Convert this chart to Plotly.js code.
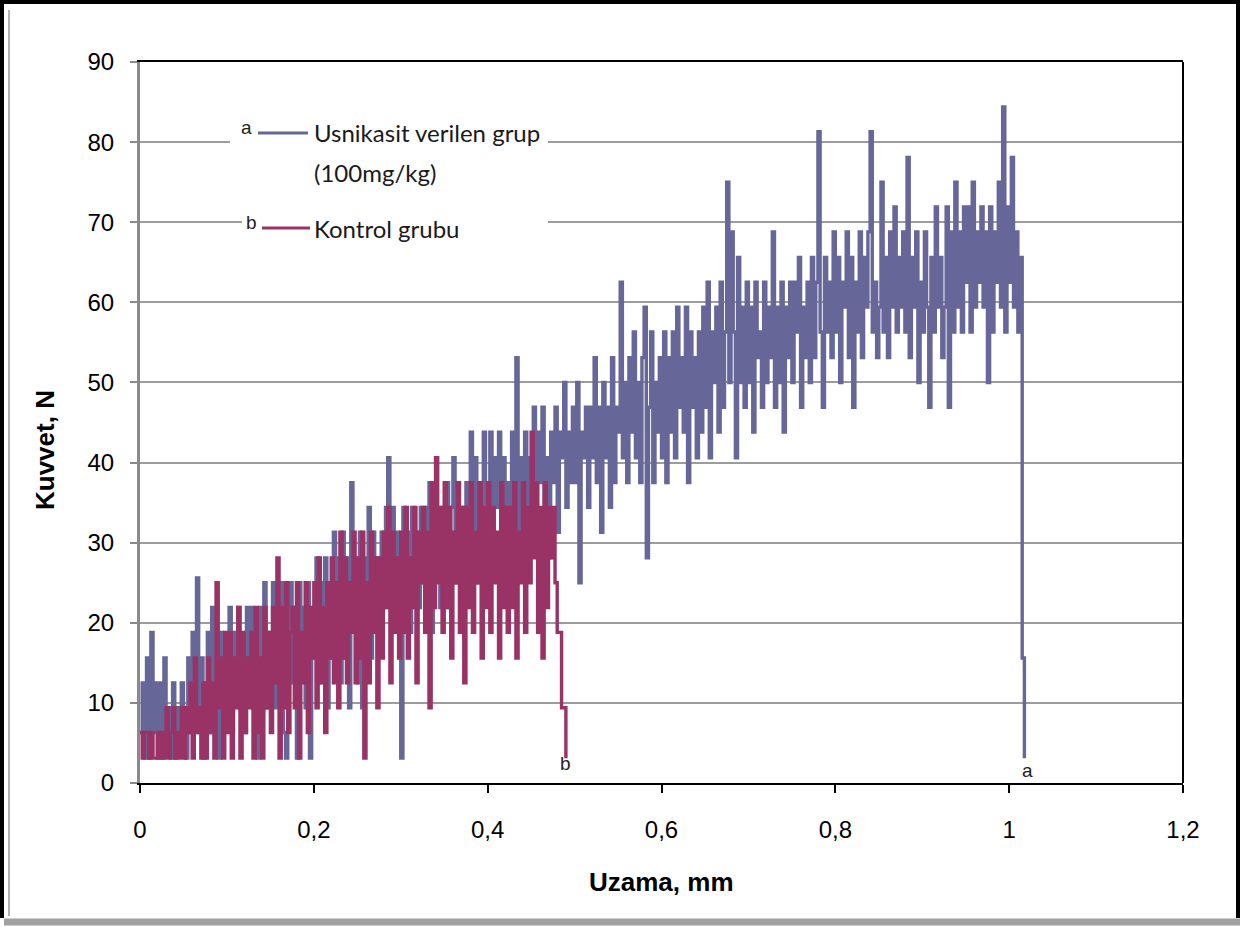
<!DOCTYPE html>
<html>
<head>
<meta charset="utf-8">
<script src="https://cdn.plot.ly/plotly-3.0.1.min.js"></script>
<style>
html,body{margin:0;padding:0;background:#fff;}
#chart{width:1252px;height:927px;}
</style>
</head>
<body>
<div id="chart"></div>
<script>
// ---- DATA ----
// elongation step between readings (mm)
const stepMm = 0.0025;

// Series a: Usnikasit verilen grup (100mg/kg) – force readings (N)
const forceA = [
 6.3,12.5,3.1,15.6,3.1,18.8,6.3,12.5,3.1,12.5,
 3.1,15.6,6.3,9.4,3.1,12.5,3.1,9.4,6.3,12.5,
 9.4,3.1,15.6,6.3,18.8,9.4,25.6,6.3,15.6,3.1,
 12.5,18.8,6.3,21.9,9.4,15.6,3.1,18.8,9.4,15.6,
 9.4,21.9,6.3,18.8,12.5,21.9,9.4,15.6,6.3,21.9,
 12.5,21.9,9.4,18.8,3.1,21.9,12.5,25,9.4,18.8,
 15.6,25,9.4,21.9,12.5,25,6.3,3.1,18.8,25,
 12.5,21.9,3.1,25,15.6,21.9,9.4,25,3.1,18.8,
 15.6,28.1,12.5,25,18.8,28.1,9.4,25,15.6,31.3,
 18.8,28.1,12.5,31.3,15.6,28.1,9.4,37.5,18.8,28.1,
 12.5,31.3,9.4,28.1,18.8,34.4,15.6,31.3,21.9,28.1,
 18.8,31.3,21.9,34.4,40.6,25,34.4,18.8,31.3,25,
 3.1,34.4,21.9,31.3,18.8,34.4,25,31.3,21.9,34.4,
 25,34.4,21.9,37.5,18.8,34.4,28.1,31.3,21.9,34.4,
 25,37.5,21.9,34.4,40.6,25,37.5,28.1,34.4,25,
 37.5,28.1,43.8,31.3,40.6,25,37.5,31.3,43.8,28.1,
 31.3,43.8,28.1,40.6,34.4,43.8,25,40.6,31.3,37.5,
 34.4,43.8,28.1,53.1,31.3,40.6,37.5,43.8,31.3,40.6,
 34.4,46.9,31.3,43.8,37.5,46.9,34.4,40.6,28.1,43.8,
 37.5,46.9,31.3,43.8,40.6,50,34.4,43.8,37.5,46.9,
 37.5,50,25,43.8,40.6,46.9,34.4,46.9,40.6,53.1,
 37.5,46.9,31.3,50,40.6,46.9,34.4,53.1,37.5,46.9,
 43.8,62.5,40.6,50,37.5,53.1,43.8,56.3,40.6,50,
 37.5,53.1,59.4,28.1,46.9,56.3,37.5,50,43.8,53.1,
 40.6,56.3,37.5,53.1,43.8,56.3,40.6,59.4,46.9,53.1,
 43.8,59.4,37.5,56.3,46.9,53.1,40.6,56.3,43.8,59.4,
 46.9,62.5,40.6,56.3,50,59.4,43.8,62.5,46.9,56.3,
 75,50,68.8,56.3,40.6,65.6,50,59.4,46.9,62.5,
 50,59.4,43.8,62.5,53.1,56.3,46.9,62.5,50,59.4,
 53.1,68.8,46.9,59.4,50,62.5,43.8,59.4,53.1,62.5,
 50,62.5,56.3,65.6,46.9,59.4,53.1,62.5,50,65.6,
 53.1,62.5,81.3,56.3,46.9,65.6,56.3,62.5,53.1,68.8,
 56.3,65.6,50,62.5,59.4,68.8,53.1,65.6,46.9,62.5,
 56.3,68.8,53.1,65.6,59.4,68.8,81.3,56.3,62.5,53.1,
 59.4,75,56.3,65.6,53.1,68.8,59.4,71.9,56.3,65.6,
 59.4,68.8,56.3,78.1,53.1,65.6,59.4,68.8,50,62.5,
 56.3,68.8,59.4,46.9,65.6,56.3,71.9,59.4,65.6,53.1,
 59.4,71.9,46.9,68.8,56.3,75,59.4,68.8,56.3,71.9,
 62.5,71.9,56.3,75,59.4,68.8,62.5,71.9,59.4,68.8,
 50,71.9,56.3,68.8,62.5,75,59.4,84.4,56.3,71.9,
 62.5,78.1,59.4,68.8,56.3,65.6,15.6,3.1
];

// Series b: Kontrol grubu – force readings (N)
const forceB = [
 6.3,3.1,6.3,6.3,3.1,6.3,3.1,3.1,6.3,3.1,
 6.3,3.1,9.4,3.1,6.3,9.4,3.1,6.3,3.1,9.4,
 3.1,9.4,6.3,12.5,3.1,15.6,6.3,9.4,3.1,12.5,
 3.1,15.6,6.3,12.5,3.1,25,9.4,15.6,3.1,18.8,
 6.3,18.8,3.1,15.6,9.4,21.9,3.1,18.8,6.3,15.6,
 9.4,18.8,3.1,21.9,6.3,15.6,3.1,21.9,9.4,18.8,
 6.3,21.9,12.5,28.1,3.1,21.9,9.4,25,6.3,18.8,
 21.9,9.4,25,3.1,18.8,12.5,25,6.3,21.9,15.6,
 25,9.4,28.1,12.5,21.9,6.3,25,15.6,28.1,12.5,
 25,9.4,31.3,15.6,28.1,12.5,25,18.8,31.3,12.5,
 28.1,15.6,31.3,3.1,25,12.5,31.3,18.8,28.1,9.4,
 28.1,15.6,31.3,21.9,34.4,12.5,31.3,18.8,28.1,15.6,
 31.3,18.8,34.4,15.6,28.1,21.9,34.4,12.5,31.3,25,
 34.4,18.8,31.3,9.4,37.5,21.9,40.6,25,34.4,18.8,
 37.5,21.9,34.4,15.6,31.3,25,37.5,18.8,34.4,12.5,
 34.4,21.9,37.5,18.8,31.3,25,37.5,15.6,34.4,21.9,
 37.5,18.8,34.4,25,31.3,15.6,37.5,21.9,34.4,18.8,
 34.4,21.9,37.5,15.6,31.3,25,37.5,18.8,34.4,25,
 43.8,28.1,37.5,18.8,34.4,15.6,37.5,21.9,34.4,28.1,
 34.4,25,18.8,18.8,9.4,9.4,3.1
];

const xTickVals = [0, 0.2, 0.4, 0.6, 0.8, 1, 1.2];
const yTickVals = [0, 10, 20, 30, 40, 50, 60, 70, 80, 90];

const nameA = "Usnikasit verilen grup";
const nameA2 = "(100mg/kg)";
const nameB = "Kontrol grubu";
const xTitle = "Uzama, mm";
const yTitle = "Kuvvet, N";

const colorA = "#666699";
const colorB = "#993366";

const elong = arr => arr.map((_, i) => +(i * stepMm).toFixed(4));

// ---- layout helpers (pixel -> paper) ----
const L = 140, R = 1183, T = 62, B = 783;
const px = v => (v - L) / (R - L);
const py = v => (B - v) / (B - T);

const traces = [
  {x: elong(forceA), y: forceA, type: "scatter", mode: "lines",
   line: {color: colorA, width: 3.4, shape: "hv"}, name: nameA, hoverinfo: "skip"},
  {x: elong(forceB), y: forceB, type: "scatter", mode: "lines",
   line: {color: colorB, width: 3.4, shape: "hv"}, name: nameB, hoverinfo: "skip"}
];

const tickFont = {family: "'Liberation Sans', Arial, sans-serif", size: 24, color: "#000"};
const titleFont = {family: "'Liberation Sans', Arial, sans-serif", size: 26, color: "#000"};
const legFont = {family: "Lato, 'Open Sans', sans-serif", size: 24, color: "#1a1a1a"};
const smallFont = {family: "'Liberation Sans', Arial, sans-serif", size: 19, color: "#222"};

const layout = {
  width: 1252, height: 927,
  margin: {l: L, r: 1252 - R, t: T, b: 927 - B, pad: 0},
  paper_bgcolor: "#fff", plot_bgcolor: "#fff",
  separators: ", ",
  showlegend: false,
  xaxis: {
    range: [0, 1.2], tickvals: xTickVals, showgrid: false, zeroline: false,
    showline: true, linecolor: "#000", linewidth: 2, mirror: true,
    ticks: "outside", ticklen: 8, tickwidth: 2, tickcolor: "#000",
    tickfont: tickFont, ticklabelstandoff: 16, fixedrange: true
  },
  yaxis: {
    range: [0, 90], tickvals: yTickVals, showgrid: true, gridcolor: "#9c9c9c", gridwidth: 2,
    zeroline: false, showline: true, linecolor: "#8a8a8a", linewidth: 3,
    ticks: "outside", ticklen: 7, tickwidth: 2, tickcolor: "#8a8a8a",
    tickfont: tickFont, ticklabelstandoff: 11, fixedrange: true
  },
  shapes: [
    // white mask behind legend
    {type: "rect", xref: "paper", yref: "paper", x0: px(230), x1: px(548), y0: py(180), y1: py(100),
     fillcolor: "#fff", line: {width: 0}, layer: "above"},
    {type: "rect", xref: "paper", yref: "paper", x0: px(242), x1: px(548), y0: py(240), y1: py(180),
     fillcolor: "#fff", line: {width: 0}, layer: "above"},
    // legend line samples
    {type: "line", xref: "paper", yref: "paper", x0: px(258), x1: px(308), y0: py(133), y1: py(133),
     line: {color: colorA, width: 3}, layer: "above"},
    {type: "line", xref: "paper", yref: "paper", x0: px(262), x1: px(310), y0: py(228), y1: py(228),
     line: {color: colorB, width: 3}, layer: "above"},
    // right frame of plot
    {type: "line", xref: "paper", yref: "paper", x0: 1, x1: 1, y0: 0, y1: 1,
     line: {color: "#000", width: 2}, layer: "above"},
    // outer image frame
    {type: "line", xref: "paper", yref: "paper", x0: px(2), x1: px(2), y0: py(0), y1: py(918),
     line: {color: "#000", width: 4}, layer: "above"},
    {type: "line", xref: "paper", yref: "paper", x0: px(0), x1: px(1240), y0: py(2), y1: py(2),
     line: {color: "#000", width: 4}, layer: "above"},
    {type: "line", xref: "paper", yref: "paper", x0: px(1238), x1: px(1238), y0: py(0), y1: py(918),
     line: {color: "#000", width: 4}, layer: "above"},
    {type: "line", xref: "paper", yref: "paper", x0: px(9), x1: px(9), y0: py(10), y1: py(916),
     line: {color: "#b0b0b0", width: 2}, layer: "above"},
    {type: "line", xref: "paper", yref: "paper", x0: px(4), x1: px(1240), y0: py(922), y1: py(922),
     line: {color: "#a0a0a0", width: 7}, layer: "above"}
  ],
  annotations: [
    {xref: "paper", yref: "paper", x: px(312), y: py(133), xanchor: "left", yanchor: "middle",
     text: nameA, showarrow: false, font: legFont},
    {xref: "paper", yref: "paper", x: px(312), y: py(172), xanchor: "left", yanchor: "middle",
     text: nameA2, showarrow: false, font: legFont},
    {xref: "paper", yref: "paper", x: px(312), y: py(228), xanchor: "left", yanchor: "middle",
     text: nameB, showarrow: false, font: legFont},
    {xref: "paper", yref: "paper", x: px(246), y: py(128), xanchor: "center", yanchor: "middle",
     text: "a", showarrow: false, font: smallFont},
    {xref: "paper", yref: "paper", x: px(251), y: py(222), xanchor: "center", yanchor: "middle",
     text: "b", showarrow: false, font: smallFont},
    {xref: "paper", yref: "paper", x: px(565), y: py(763), xanchor: "center", yanchor: "middle",
     text: "b", showarrow: false, font: smallFont},
    {xref: "paper", yref: "paper", x: px(1027), y: py(770), xanchor: "center", yanchor: "middle",
     text: "a", showarrow: false, font: smallFont},
    {xref: "paper", yref: "paper", x: 0.5, y: py(882), xanchor: "center", yanchor: "middle",
     text: "<b>" + xTitle + "</b>", showarrow: false, font: titleFont},
    {xref: "paper", yref: "paper", x: px(45), y: py(450), xanchor: "center", yanchor: "middle",
     text: "<b>" + yTitle + "</b>", textangle: -90, showarrow: false, font: titleFont}
  ]
};

Plotly.newPlot("chart", traces, layout, {displayModeBar: false, staticPlot: true});
</script>
</body>
</html>
